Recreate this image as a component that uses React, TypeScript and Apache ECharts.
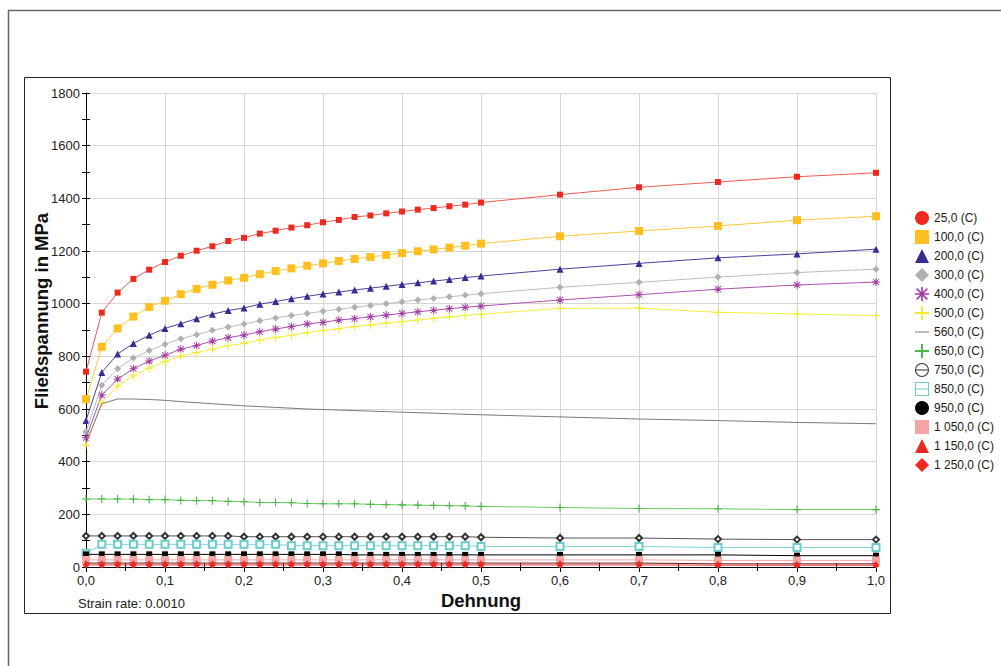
import React, { useEffect, useRef } from "react";
import * as echarts from "echarts";

const strain = [0, 0.02, 0.04, 0.06, 0.08, 0.1, 0.12, 0.14, 0.16, 0.18, 0.2, 0.22, 0.24, 0.26, 0.28, 0.3, 0.32, 0.34, 0.36, 0.38, 0.4, 0.42, 0.44, 0.46, 0.48, 0.5, 0.6, 0.7, 0.8, 0.9, 1.0];

const s25 = [742, 966, 1042, 1094, 1129, 1158, 1182, 1201, 1218, 1238, 1250, 1266, 1277, 1289, 1298, 1309, 1318, 1329, 1335, 1343, 1350, 1357, 1363, 1370, 1376, 1384, 1414, 1442, 1462, 1482, 1497];
const s100 = [637, 836, 906, 951, 987, 1011, 1036, 1056, 1072, 1088, 1098, 1112, 1124, 1134, 1144, 1153, 1162, 1170, 1177, 1185, 1192, 1199, 1206, 1213, 1220, 1228, 1256, 1276, 1295, 1317, 1332];
const s200 = [556, 739, 809, 849, 880, 906, 924, 943, 960, 974, 984, 998, 1008, 1019, 1028, 1037, 1044, 1052, 1059, 1066, 1073, 1079, 1086, 1092, 1099, 1105, 1131, 1153, 1174, 1189, 1207];
const s300 = [514, 690, 753, 794, 822, 846, 867, 882, 899, 911, 923, 935, 946, 955, 963, 971, 979, 986, 993, 1000, 1007, 1014, 1020, 1026, 1032, 1038, 1062, 1081, 1101, 1118, 1131];
const s400 = [491, 653, 714, 753, 782, 804, 827, 841, 858, 871, 881, 893, 904, 913, 923, 929, 938, 943, 950, 957, 963, 969, 975, 981, 986, 991, 1014, 1034, 1055, 1071, 1082];
const s500 = [463, 625, 687, 726, 755, 780, 801, 814, 827, 841, 849, 862, 872, 880, 890, 898, 905, 913, 919, 926, 932, 938, 944, 950, 955, 960, 982, 983, 967, 961, 955];
const s560 = [470, 620, 638, 638, 636, 633, 628, 624, 620, 616, 612, 609, 606, 603, 600, 598, 596, 594, 592, 590, 588, 586, 584, 582, 580, 578, 570, 562, 556, 549, 544];
const s650 = [258, 258, 258, 258, 256, 256, 253, 252, 252, 249, 248, 245, 245, 244, 241, 240, 240, 240, 238, 237, 236, 235, 234, 233, 232, 230, 226, 222, 221, 218, 218];
const s750 = [118, 118, 118, 118, 118, 118, 118, 118, 118, 118, 115, 115, 115, 115, 115, 115, 115, 115, 115, 115, 115, 115, 115, 115, 115, 113, 110, 110, 106, 104, 104];
const s850 = [52, 86, 86, 86, 86, 86, 86, 86, 86, 86, 86, 86, 86, 81, 81, 81, 81, 81, 81, 81, 81, 81, 81, 81, 81, 78, 78, 78, 74, 74, 74];
const s950 = [48, 48, 48, 48, 48, 48, 48, 48, 48, 48, 48, 48, 48, 48, 48, 48, 48, 46, 46, 46, 46, 46, 46, 46, 46, 46, 46, 46, 46, 43, 43];
const s1050 = [27, 27, 27, 27, 27, 27, 27, 27, 27, 27, 27, 27, 27, 27, 27, 27, 27, 27, 27, 27, 27, 27, 27, 27, 27, 27, 27, 27, 25, 25, 25];
const s1150 = [15, 15, 15, 15, 15, 15, 15, 15, 15, 15, 15, 15, 15, 15, 15, 15, 15, 15, 15, 15, 15, 15, 15, 15, 15, 15, 15, 15, 12, 12, 12];
const s1250 = [8, 8, 8, 8, 8, 8, 8, 8, 8, 8, 8, 8, 8, 8, 8, 8, 8, 8, 8, 8, 8, 8, 8, 8, 8, 8, 8, 8, 7, 7, 7];

const seriesNames = ["25,0 (C)", "100,0 (C)", "200,0 (C)", "300,0 (C)", "400,0 (C)", "500,0 (C)", "560,0 (C)", "650,0 (C)", "750,0 (C)", "850,0 (C)", "950,0 (C)", "1 050,0 (C)", "1 150,0 (C)", "1 250,0 (C)"];
const seriesValues = [s25, s100, s200, s300, s400, s500, s560, s650, s750, s850, s950, s1050, s1150, s1250];

const PLUS = "path://M4.3,0L5.7,0L5.7,4.3L10,4.3L10,5.7L5.7,5.7L5.7,10L4.3,10L4.3,5.7L0,5.7L0,4.3L4.3,4.3Z";
const STAR = "path://M4.4,0L5.6,0L5.6,4.4L10,4.4L10,5.6L5.6,5.6L5.6,10L4.4,10L4.4,5.6L0,5.6L0,4.4L4.4,4.4Z M1.6,0.8L9.2,8.4L8.4,9.2L0.8,1.6Z M8.4,0.8L9.2,1.6L1.6,9.2L0.8,8.4Z";
const LINE_ICON = "path://M0,0L0.05,0L0,0.05Z M0,13.95L0.05,14L0,14Z M0,6.5L14,6.5L14,7.5L0,7.5Z";
const CIRCLE_BAR = "path://M0,7A7,7 0 1 1 14,7A7,7 0 1 1 0,7Z M1,7A6,6 0 1 0 13,7A6,6 0 1 0 1,7Z M1,6.5L13,6.5L13,7.5L1,7.5Z";
const SQUARE_BAR = "path://M0,0L14,0L14,14L0,14Z M1,1L1,13L13,13L13,1Z M1,6.5L13,6.5L13,7.5L1,7.5Z";

const styles = [
  { color: "#ee2a1e", line: "#f05a50", symbol: "rect", size: 6, legendIcon: "circle" },
  { color: "#ffbf1f", line: "#ffc83c", symbol: "rect", size: 8, legendIcon: "rect" },
  { color: "#352c94", line: "#4a42a0", symbol: "triangle", size: 7, legendIcon: "triangle" },
  { color: "#b0b0b0", line: "#bdbdbd", symbol: "diamond", size: 7, legendIcon: "diamond" },
  { color: "#a43ca4", line: "#b050b0", symbol: STAR, size: 8, legendIcon: STAR },
  { color: "#f4ec2c", line: "#f6ee40", symbol: PLUS, size: 8, legendIcon: PLUS },
  { color: "#7a7a7a", line: "#7a7a7a", symbol: "none", size: 0, legendIcon: LINE_ICON },
  { color: "#4cb844", line: "#6cc864", symbol: PLUS, size: 8, legendIcon: PLUS },
  { color: "#333333", line: "#555555", symbol: "emptyDiamond", size: 6, legendIcon: CIRCLE_BAR },
  { color: "#6ccccc", line: "#80d4d4", symbol: "emptyRect", size: 7, legendIcon: SQUARE_BAR },
  { color: "#000000", line: "#000000", symbol: "rect", size: 6, legendIcon: "circle" },
  { color: "#f4a4a4", line: "#f4a4a4", symbol: "rect", size: 8, legendIcon: "rect" },
  { color: "#e82a20", line: "#6a1a1a", symbol: "triangle", size: 6, legendIcon: "triangle" },
  { color: "#f02820", line: "#e83030", symbol: "diamond", size: 7, legendIcon: "diamond" },
];

const FONT = 'Arial, "Liberation Sans", sans-serif';

export default function App() {
  const ref = useRef<HTMLDivElement>(null);

  useEffect(() => {
    if (!ref.current) return;
    const chart = echarts.init(ref.current, undefined, { renderer: "svg" });

    const series = seriesNames.map((name, i) => {
      const st = styles[i];
      return {
        name,
        type: "line",
        data: strain.map((x, j) => [x, seriesValues[i][j]]),
        symbol: st.symbol,
        symbolSize: st.size,
        showSymbol: st.symbol !== "none",
        lineStyle: { width: 1, color: st.line },
        itemStyle: { color: st.color, borderWidth: st.symbol.startsWith("empty") ? 1 : 0, borderColor: st.color },
        xAxisIndex: 0,
        yAxisIndex: 0,
        z: 2 + i,
        silent: true,
      };
    });

    const option: any = {
      animation: false,
      backgroundColor: "#ffffff",
      textStyle: { fontFamily: FONT },
      grid: { left: 86, right: 125, top: 93, bottom: 99, containLabel: false },
      xAxis: [
        {
          type: "value",
          min: 0,
          max: 1,
          interval: 0.1,
          axisLine: { show: true, onZero: false, lineStyle: { color: "#000", width: 1 } },
          axisTick: { show: true, length: 5, lineStyle: { color: "#000" } },
          minorTick: { show: true, splitNumber: 2, length: 4, lineStyle: { color: "#000" } },
          splitLine: { show: true, lineStyle: { color: "#d6d6d6", width: 1 } },
          axisLabel: {
            margin: 7,
            fontSize: 13,
            color: "#222",
            fontFamily: FONT,
            formatter: (v: number) => v.toFixed(1).replace(".", ","),
          },
        },
        {
          type: "value",
          position: "bottom",
          min: 0,
          max: 1,
          interval: 0.1,
          axisLine: { show: false },
          axisTick: { show: true, inside: true, length: 4, lineStyle: { color: "#000" } },
          minorTick: { show: true, splitNumber: 2, length: 4, lineStyle: { color: "#000" } },
          splitLine: { show: false },
          axisLabel: { show: false },
        },
      ],
      yAxis: [
        {
          type: "value",
          min: 0,
          max: 1800,
          interval: 200,
          axisLine: { show: true, onZero: false, lineStyle: { color: "#000", width: 1 } },
          axisTick: { show: true, length: 4, lineStyle: { color: "#000" } },
          minorTick: { show: true, splitNumber: 2, length: 4, lineStyle: { color: "#000" } },
          splitLine: { show: true, lineStyle: { color: "#d6d6d6", width: 1 } },
          axisLabel: { margin: 6, fontSize: 13, color: "#222", fontFamily: FONT, formatter: (v: number) => String(v) },
        },
        {
          type: "value",
          position: "left",
          min: 0,
          max: 1800,
          interval: 200,
          axisLine: { show: false },
          axisTick: { show: true, inside: true, length: 4, lineStyle: { color: "#000" } },
          minorTick: { show: true, splitNumber: 2, length: 4, lineStyle: { color: "#000" } },
          splitLine: { show: false },
          axisLabel: { show: false },
        },
      ],
      legend: {
        orient: "vertical",
        left: 910,
        top: 206,
        padding: 5,
        itemWidth: 14,
        itemHeight: 14,
        itemGap: 5,
        selectedMode: false,
        itemStyle: { borderWidth: 0 },
        textStyle: { fontSize: 12, color: "#1a1a1a", fontFamily: FONT },
        data: seriesNames.map((name, i) => ({ name, icon: styles[i].legendIcon })),
      },
      graphic: [
        { type: "line", shape: { x1: 8, y1: 10.5, x2: 1001, y2: 10.5 }, style: { stroke: "#666", lineWidth: 1.5 }, silent: true },
        { type: "line", shape: { x1: 8.5, y1: 10, x2: 8.5, y2: 666 }, style: { stroke: "#666", lineWidth: 1.5 }, silent: true },
        { type: "rect", shape: { x: 24.5, y: 77.5, width: 866, height: 536 }, style: { fill: "none", stroke: "#222", lineWidth: 1 }, silent: true, z: -1 },
        {
          type: "text",
          x: 41,
          y: 311,
          rotation: Math.PI / 2,
          style: { text: "Fließspannung in MPa", font: `bold 18.5px ${FONT}`, fill: "#111", textAlign: "center", textVerticalAlign: "middle" },
          silent: true,
        },
        {
          type: "text",
          x: 481,
          y: 600,
          style: { text: "Dehnung", font: `bold 18.5px ${FONT}`, fill: "#111", textAlign: "center", textVerticalAlign: "middle" },
          silent: true,
        },
        {
          type: "text",
          x: 78,
          y: 603,
          style: { text: "Strain rate: 0.0010", font: `13px ${FONT}`, fill: "#222", textAlign: "left", textVerticalAlign: "middle" },
          silent: true,
        },
      ],
      series,
    };

    chart.setOption(option);
    return () => chart.dispose();
  }, []);

  return <div ref={ref} style={{ position: "absolute", left: 0, top: 0, width: 1001, height: 666 }} />;
}
